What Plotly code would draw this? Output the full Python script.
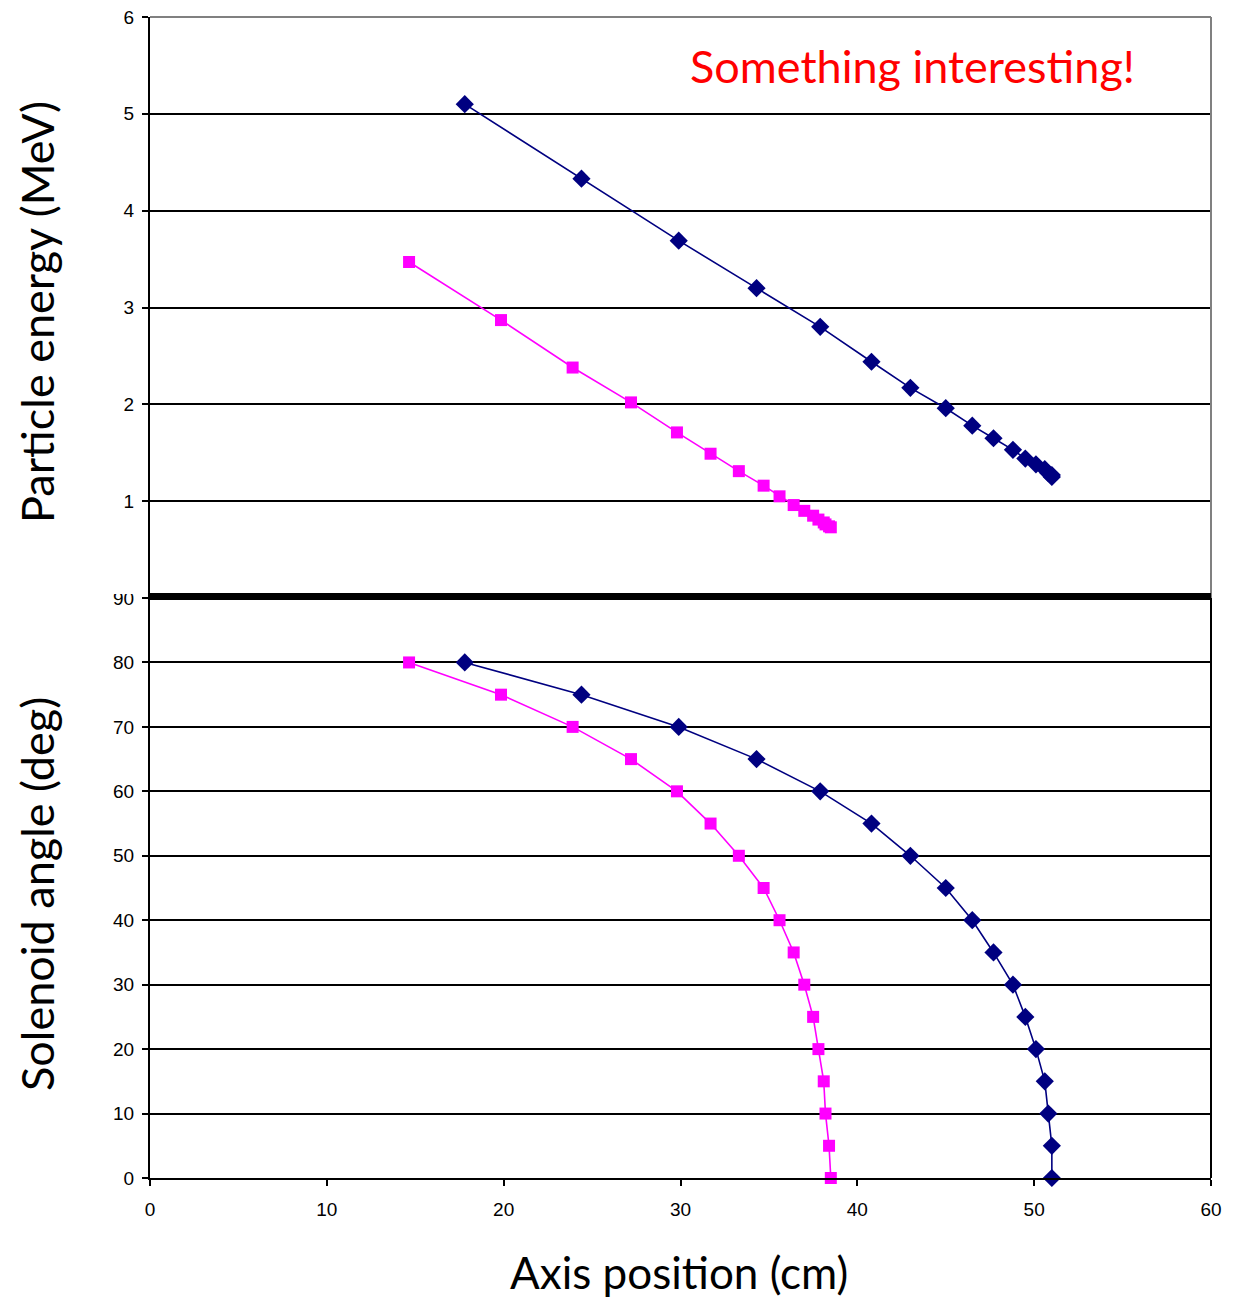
import plotly.graph_objects as go
from plotly.subplots import make_subplots

# Axis position (cm) for each series, one point per solenoid angle step
angle_deg = [80, 75, 70, 65, 60, 55, 50, 45, 40, 35, 30, 25, 20, 15, 10, 5, 0]

pos_blue = [17.8, 24.4, 29.9, 34.3, 37.9, 40.8, 43.0, 45.0, 46.5, 47.7,
            48.8, 49.5, 50.1, 50.6, 50.8, 51.0, 51.0]
energy_blue = [5.10, 4.33, 3.69, 3.20, 2.80, 2.44, 2.17, 1.96, 1.78, 1.65,
               1.53, 1.44, 1.38, 1.33, 1.29, 1.27, 1.25]

pos_magenta = [14.65, 19.85, 23.9, 27.2, 29.8, 31.7, 33.3, 34.7, 35.6, 36.4,
               37.0, 37.5, 37.8, 38.1, 38.2, 38.4, 38.5]
energy_magenta = [3.47, 2.87, 2.38, 2.02, 1.71, 1.49, 1.31, 1.16, 1.05, 0.96,
                  0.90, 0.85, 0.81, 0.78, 0.76, 0.74, 0.73]

x_ticks = [0, 10, 20, 30, 40, 50, 60]
energy_ticks = [1, 2, 3, 4, 5, 6]
angle_ticks = [0, 10, 20, 30, 40, 50, 60, 70, 80, 90]

BLUE = "#000080"
MAGENTA = "#FF00FF"

fig = make_subplots(rows=2, cols=1, shared_xaxes=False, vertical_spacing=0)

def add_series(row, xs, ys, color, symbol, size):
    fig.add_trace(go.Scatter(
        x=xs, y=ys, mode="lines+markers",
        line=dict(color=color, width=1.6),
        marker=dict(color=color, symbol=symbol, size=size, line=dict(width=0)),
        showlegend=False, cliponaxis=False,
    ), row=row, col=1)

add_series(1, pos_blue, energy_blue, BLUE, "diamond", 14)
add_series(1, pos_magenta, energy_magenta, MAGENTA, "square", 12)
add_series(2, pos_blue, angle_deg, BLUE, "diamond", 14)
add_series(2, pos_magenta, angle_deg, MAGENTA, "square", 12)

tick_font = dict(family="Liberation Sans, Arial, sans-serif", size=19, color="black")
title_font = "Lato, Carlito, Calibri, sans-serif"

split = 580 / 1161.0

fig.update_layout(
    width=1239, height=1297,
    margin=dict(l=150, r=28, t=17, b=119),
    plot_bgcolor="white", paper_bgcolor="white",
    xaxis=dict(domain=[0, 1], range=[0, 60], showticklabels=False, showgrid=False,
               zeroline=False, showline=False, ticks="", anchor="y",
               automargin=False),
    yaxis=dict(domain=[split, 1], range=[0, 6], tickvals=energy_ticks,
               showgrid=True, gridcolor="black", gridwidth=2, zeroline=False,
               showline=True, linecolor="black", linewidth=2, mirror=False,
               ticks="outside", ticklen=6, tickwidth=2, tickcolor="black",
               tickfont=tick_font, ticklabelstandoff=4, automargin=False),
    xaxis2=dict(domain=[0, 1], range=[0, 60], tickvals=x_ticks, showgrid=False,
                zeroline=False, showline=True, linecolor="black", linewidth=2,
                ticks="outside", ticklen=6, tickwidth=2, tickcolor="black",
                tickfont=tick_font, ticklabelstandoff=7, anchor="y2",
                automargin=False),
    yaxis2=dict(domain=[0, split], range=[0, 90], tickvals=angle_ticks,
                showgrid=True, gridcolor="black", gridwidth=2, zeroline=False,
                showline=True, linecolor="black", linewidth=2,
                ticks="outside", ticklen=6, tickwidth=2, tickcolor="black",
                tickfont=tick_font, ticklabelstandoff=4, anchor="x2",
                automargin=False),
)

def py(pixel_y):
    # convert a window row to paper units of the plot area
    return (1178 - pixel_y) / 1161.0

def px(pixel_x):
    return (pixel_x - 150) / 1061.0

shapes = [
    # grey frame on the top and right of the energy panel
    dict(type="line", xref="paper", yref="paper", x0=0, x1=1, y0=1, y1=1,
         line=dict(color="#808080", width=2), layer="above"),
    dict(type="line", xref="paper", yref="paper", x0=1, x1=1, y0=split, y1=1,
         line=dict(color="#808080", width=2), layer="above"),
    # black right edge of the angle panel
    dict(type="line", xref="paper", yref="paper", x0=1, x1=1, y0=0, y1=split,
         line=dict(color="black", width=2), layer="above"),
    # heavy divider between the two panels
    dict(type="line", xref="paper", yref="paper", x0=0, x1=1, y0=py(596.5),
         y1=py(596.5), line=dict(color="black", width=7), layer="above"),
    # the energy panel sits over the top half of the "90" label
    dict(type="rect", xref="paper", yref="paper", x0=-0.06, x1=-0.0025,
         y0=py(594), y1=py(584), fillcolor="white", line=dict(width=0),
         layer="above"),
]
fig.update_layout(shapes=shapes)

annotations = [
    dict(text="Something interesting!", xref="paper", yref="paper",
         x=px(688), y=py(66), xanchor="left", yanchor="middle", showarrow=False,
         font=dict(family=title_font, size=45, color="#FF0000")),
    dict(text="Particle energy (MeV)", xref="paper", yref="paper",
         x=px(37), y=py(312), xanchor="center", yanchor="middle",
         textangle=-90, showarrow=False,
         font=dict(family=title_font, size=45, color="black")),
    dict(text="Solenoid angle (deg)", xref="paper", yref="paper",
         x=px(37), y=py(894), xanchor="center", yanchor="middle",
         textangle=-90, showarrow=False,
         font=dict(family=title_font, size=45, color="black")),
    dict(text="Axis position (cm)", xref="paper", yref="paper",
         x=px(679), y=py(1272), xanchor="center", yanchor="middle",
         showarrow=False,
         font=dict(family=title_font, size=44, color="black")),
]
fig.update_layout(annotations=annotations)

fig.write_html("out.html")
